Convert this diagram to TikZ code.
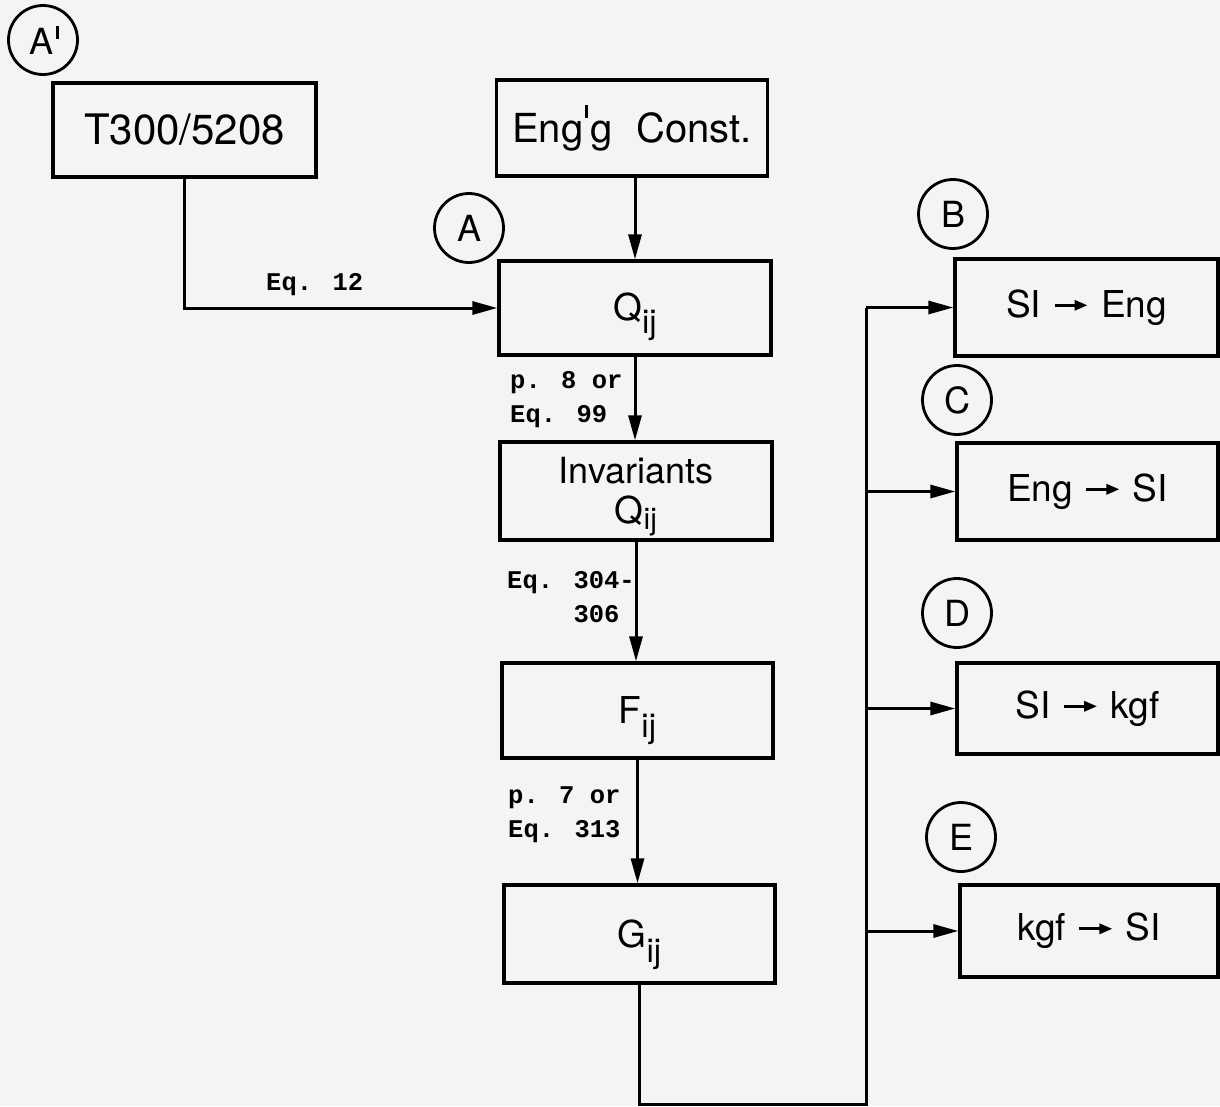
\documentclass[tikz,border=0pt]{standalone}
\usepackage{fontspec}
\setmainfont{TeX Gyre Heros}
\newfontfamily\twfont{Liberation Mono}[BoldFont={Liberation Mono Bold}]
\usetikzlibrary{arrows.meta}
\definecolor{paper}{RGB}{244,244,242}
\newcommand\subij[2][13pt]{\raisebox{-#1}[0pt][0pt]{\fontsize{33}{33}\selectfont #2}}
\newcommand\toarrow{\hspace{12pt}\tikz[baseline={(0pt,-12pt)}]\draw[line width=3pt,-{Triangle[length=13pt,width=10pt]}] (0pt,0pt) -- (33pt,0pt);\hspace{12pt}}
\newcommand\tick[2]{\hspace{#1}\rule[#2]{3pt}{13pt}\hspace{#1}}
\begin{document}
\begin{tikzpicture}[x=1pt,y=-1pt,
  box/.style={draw, line width=3.3pt, inner sep=0pt, align=center,
    font=\fontsize{37}{40}\selectfont},
  bigbox/.style={box, font=\fontsize{42}{44}\selectfont},
  tag/.style={draw, circle, line width=2.8pt, minimum size=69pt, inner sep=0pt,
    font=\fontsize{36}{36}\selectfont},
  lab/.style={anchor=west, align=left, inner sep=0pt,
    font=\twfont\bfseries\fontsize{25.5}{34}\selectfont},
  conn/.style={line width=3pt},
  arr/.style={conn, -{Triangle[length=25pt,width=13pt]}}]
\fill[paper] (0,0) rectangle (1220,1106);
\useasboundingbox (0,0) rectangle (1220,1106);

% tags
\node[tag] (tAp) at (43,40) {\hspace{3pt}A\hspace{2pt}\rule[16pt]{3.2pt}{13pt}};
\node[tag] (tA) at (469,228) {A};
\node[tag] (tB) at (953,214) {B};
\node[tag] (tC) at (957,400) {C};
\node[tag] (tD) at (957,613) {D};
\node[tag] (tE) at (961,837) {E};

% main column
\node[bigbox, minimum width=263pt, minimum height=94pt] (T300) at (184.5,130) {T300/5208};
\node[box, font=\fontsize{40}{44}\selectfont, minimum width=271pt, minimum height=96pt] (Eng) at (632,128) {Eng\tick{2pt}{25pt}g\hspace{24pt}Const.};
\node[box, minimum width=272pt, minimum height=94pt] (Q) at (635,308) {Q\subij{ij}};
\node[box, minimum width=272pt, minimum height=98pt] (Inv) at (636,491)
  {\fontsize{36}{43}\selectfont Invariants\\Q\subij[6pt]{\fontsize{30}{30}\selectfont ij}};
\node[box, minimum width=271pt, minimum height=95pt] (F) at (637.5,710.5) {F\subij[14pt]{ij}};
\node[box, minimum width=271pt, minimum height=98pt] (G) at (639.5,934) {G\subij[15pt]{ij}};

% right column
\node[box, minimum width=263pt, minimum height=97pt] (b1) at (1086.5,307.5) {SI\toarrow Eng};
\node[box, minimum width=261pt, minimum height=97pt] (b2) at (1087.5,491.5) {Eng\toarrow SI};
\node[box, minimum width=261pt, minimum height=91pt] (b3) at (1087.5,708.5) {SI\toarrow kgf};
\node[box, minimum width=258pt, minimum height=92pt] (b4) at (1089,931) {kgf\toarrow SI};

% labels
\node[lab] (l1) at (266,285) {Eq. 12};
\node[lab] (l2) at (510,400) {p. 8 or\\Eq. 99};
\node[lab] (l3) at (507,600) {Eq. 304-\\\phantom{Eq. }306};
\node[lab] (l4) at (508,815) {p. 7 or\\Eq. 313};

% connectors
\draw[arr] (T300.south) |- (Q.west);
\draw[arr] (Eng.south -| Q.north) -- (Q.north);
\draw[arr] (Q.south) -- (Q.south |- Inv.north);
\draw[arr] (Inv.south) -- (Inv.south |- F.north);
\draw[arr] (F.south) -- (F.south |- G.north);

\coordinate (bus) at (866,1104);
\draw[conn, line join=miter] (G.south) |- (bus) -- (bus |- b1.west);
\draw[arr] (bus |- b1.west) -- (b1.west);
\draw[arr] (bus |- b2.west) -- (b2.west);
\draw[arr] (bus |- b3.west) -- (b3.west);
\draw[arr] (bus |- b4.west) -- (b4.west);
\end{tikzpicture}
\end{document}
